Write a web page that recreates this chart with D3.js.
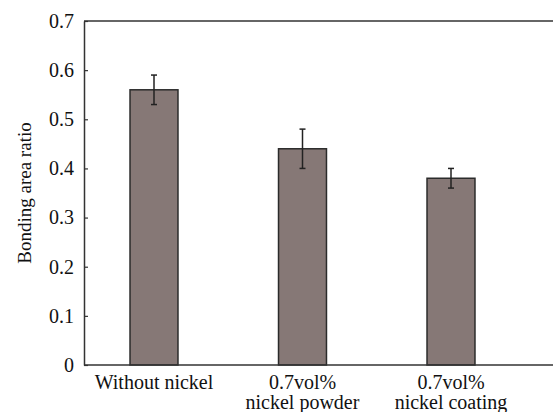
<!DOCTYPE html>
<html>
<head>
<meta charset="utf-8">
<script src="https://cdn.jsdelivr.net/npm/d3@7"></script>
<style>
  body { margin: 0; background: #fff; }
  svg text { font-family: "Liberation Serif", "Times New Roman", "DejaVu Serif", serif; fill: #111; }
</style>
</head>
<body>
<div id="container"></div>
<script>
const categories = [["Without nickel"], ["0.7vol%", "nickel powder"], ["0.7vol%", "nickel coating"]];
const ratios = [0.56, 0.44, 0.38];
const errLow = [0.53, 0.40, 0.36];
const errHigh = [0.59, 0.48, 0.40];
const yTicks = [0, 0.1, 0.2, 0.3, 0.4, 0.5, 0.6, 0.7];

const w = 553;
const h = 412;
const plotLeft = 84, plotTop = 21, plotBottom = 365, plotRight = 553;

const svg = d3.select("#container")
              .append("svg")
              .attr("width", w)
              .attr("height", h);

//scales
const keys = categories.map((c, i) => i);
const xScale = d3.scaleBand()
                 .domain(keys)
                 .range([79.75, 525.25])
                 .paddingInner(0.677)
                 .paddingOuter(0.3385);

const yScale = d3.scaleLinear()
                 .domain([0, 0.7])
                 .range([plotBottom, plotTop]);

//bars
svg.selectAll("rect.bar")
   .data(ratios)
   .enter()
   .append("rect")
   .attr("class", "bar")
   .attr("x", (d, i) => xScale(i))
   .attr("y", d => yScale(d))
   .attr("width", xScale.bandwidth())
   .attr("height", d => yScale(0) - yScale(d))
   .attr("fill", "#867876")
   .attr("stroke", "#2b2b2b")
   .attr("stroke-width", 1.5);

//error bars
const err = svg.append("g").attr("stroke", "#222").attr("stroke-width", 1.5);
ratios.forEach((d, i) => {
  const cx = xScale(i) + xScale.bandwidth() / 2;
  err.append("line")
     .attr("x1", cx).attr("x2", cx)
     .attr("y1", yScale(errLow[i])).attr("y2", yScale(errHigh[i]));
  [errLow[i], errHigh[i]].forEach(v => {
    err.append("line")
       .attr("x1", cx - 3).attr("x2", cx + 3)
       .attr("y1", yScale(v)).attr("y2", yScale(v));
  });
});

//axes frame
const yAxis = d3.axisLeft(yScale)
                .tickValues(yTicks)
                .tickFormat(d => d === 0 ? "0" : d3.format(".1f")(d))
                .tickSizeInner(-4)
                .tickSizeOuter(0)
                .tickPadding(10);
const gy = svg.append("g")
   .attr("transform", `translate(${plotLeft}, 0)`)
   .call(yAxis);
gy.select(".domain").attr("stroke", "#333").attr("stroke-width", 1.5);
gy.selectAll(".tick line").attr("stroke", "#333").attr("stroke-width", 1.2);
gy.selectAll(".tick text")
  .attr("font-size", 20)
  .attr("fill", "#111");

svg.append("line")
   .attr("x1", plotLeft).attr("x2", plotRight)
   .attr("y1", plotTop).attr("y2", plotTop)
   .attr("stroke", "#333").attr("stroke-width", 1.5);
svg.append("line")
   .attr("x1", plotLeft).attr("x2", plotRight)
   .attr("y1", plotBottom).attr("y2", plotBottom)
   .attr("stroke", "#333").attr("stroke-width", 1.5);

//category labels
categories.forEach((lines, i) => {
  const cx = xScale(i) + xScale.bandwidth() / 2;
  lines.forEach((s, j) => {
    svg.append("text")
       .attr("x", cx)
       .attr("y", 389 + j * 20)
       .attr("text-anchor", "middle")
       .attr("font-size", 20)
       .text(s);
  });
});

//y label
svg.append("text")
   .attr("transform", `translate(31, ${(plotTop + plotBottom) / 2}) rotate(-90)`)
   .attr("text-anchor", "middle")
   .attr("font-size", 19)
   .text("Bonding area ratio");
</script>
</body>
</html>
